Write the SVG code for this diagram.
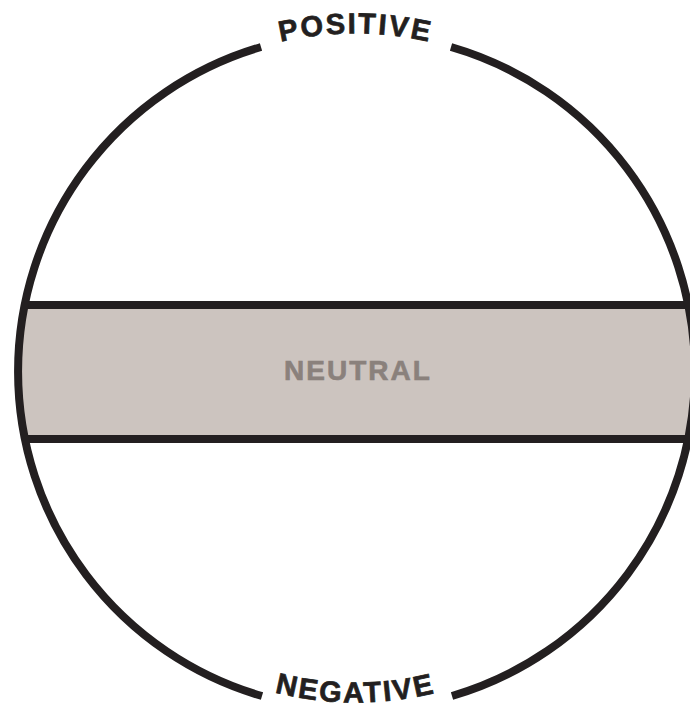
<svg xmlns="http://www.w3.org/2000/svg" width="690" height="710" viewBox="0 0 690 710">
  <style>
    .ln { fill: none; stroke: #231f20; stroke-width: 8; }
    .lbl { font-family: "Liberation Sans", Arial, sans-serif; font-weight: bold; font-size: 29px; fill: #231f20; stroke: #231f20; stroke-width: 0.7px; letter-spacing: 2.2px; }
    .mid { font-family: "Liberation Sans", Arial, sans-serif; font-weight: bold; font-size: 28px; fill: #8a817c; stroke: #8a817c; stroke-width: 0.6px; letter-spacing: 2px; }
  </style>
  <defs>
    <clipPath id="circ"><circle cx="355.5" cy="371.5" r="338"/></clipPath>
    <path id="topArc" d="M 17.5,371.5 A 338 338 0 0 1 693.5,371.5"/>
    <path id="botArc" d="M 24.5,371.5 A 331 331 0 0 0 686.5,371.5"/>
  </defs>
  <rect width="690" height="710" fill="#ffffff"/>
  <g id="neutral">
    <rect x="0" y="305" width="690" height="134" fill="#ccc4bf" clip-path="url(#circ)"/>
    <g clip-path="url(#circ)">
      <line class="ln" x1="0" y1="305" x2="690" y2="305"/>
      <line class="ln" x1="0" y1="439" x2="690" y2="439"/>
    </g>
    <text class="mid" x="358" y="380" text-anchor="middle">NEUTRAL</text>
  </g>
  <g id="circle">
    <path class="ln" d="M 261,47 A 338 338 0 0 0 262,696"/>
    <path class="ln" d="M 451,47 A 338 338 0 0 1 452,696"/>
  </g>
  <g id="positive">
    <text class="lbl"><textPath href="#topArc" startOffset="50%" text-anchor="middle">POSITIVE</textPath></text>
  </g>
  <g id="negative">
    <text class="lbl"><textPath href="#botArc" startOffset="50%" text-anchor="middle">NEGATIVE</textPath></text>
  </g>
</svg>
